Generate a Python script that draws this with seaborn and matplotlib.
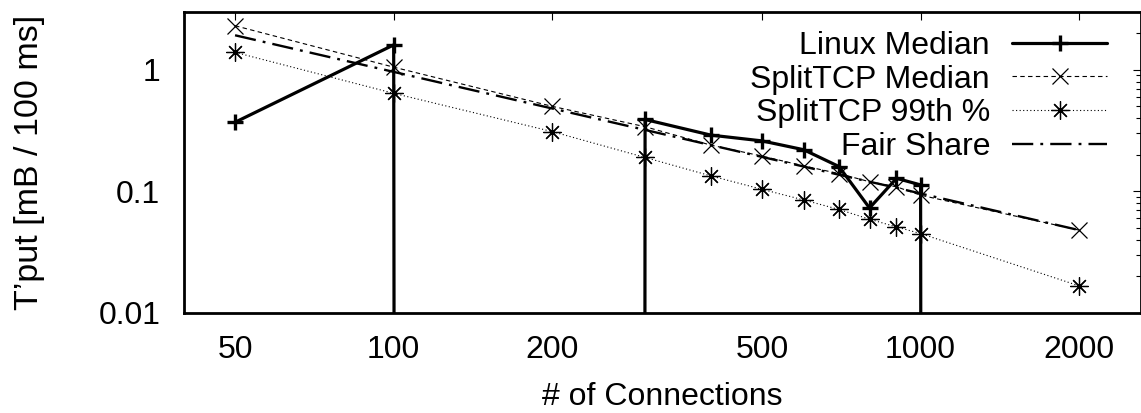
import numpy as np
import pandas as pd
import matplotlib
matplotlib.use("Agg")
import matplotlib.pyplot as plt
import seaborn as sns
from matplotlib.ticker import FixedLocator, NullLocator, LogLocator, NullFormatter, FixedFormatter

# ---- data ----
connections = [50, 100, 200, 300, 400, 500, 600, 700, 800, 900, 1000, 2000]
linux_median = [0.37, 1.6, 0.0, 0.39, 0.29, 0.26, 0.22, 0.16, 0.073, 0.128, 0.113, 0.0]
split_median = [2.3, 1.05, 0.50, 0.34, 0.24, 0.195, 0.162, 0.14, 0.12, 0.109, 0.093, 0.048]
split_p99 = [1.39, 0.64, 0.31, 0.19, 0.134, 0.104, 0.085, 0.071, 0.059, 0.051, 0.045, 0.0167]
fair_share = [1.92, 0.96, 0.48, 0.32, 0.24, 0.192, 0.16, 0.137, 0.12, 0.107, 0.096, 0.048]
series_labels = ["Linux Median", "SplitTCP Median", "SplitTCP 99th %", "Fair Share"]
x_ticks = [50, 100, 200, 500, 1000, 2000]
x_tick_labels = ["50", "100", "200", "500", "1000", "2000"]
y_ticks = [0.01, 0.1, 1]
y_tick_labels = ["0.01", "0.1", "1"]

sns.set_style("white")
plt.rcParams["font.family"] = ["Liberation Sans", "DejaVu Sans"]
plt.rcParams["text.color"] = "black"
plt.rcParams["axes.labelcolor"] = "black"
plt.rcParams["xtick.color"] = "black"
plt.rcParams["ytick.color"] = "black"
FS = 23

fig = plt.figure(figsize=(11.41, 4.13), dpi=100)
ax = fig.add_axes([184 / 1141, 100 / 413, 957 / 1141, 301.3 / 413])

df = pd.DataFrame({"x": connections, "linux": linux_median, "smed": split_median,
                   "p99": split_p99, "fair": fair_share})

sns.lineplot(data=df, x="x", y="linux", ax=ax, color="black", lw=2.3,
             marker="+", markersize=12, mec="black", mew=2.4,
             label=series_labels[0], estimator=None, sort=False)
sns.lineplot(data=df, x="x", y="smed", ax=ax, color="black", lw=0.8,
             linestyle=(0, (4, 3)), marker="x", markersize=11, mec="black", mew=0.9,
             label=series_labels[1], estimator=None, sort=False)
sns.lineplot(data=df, x="x", y="p99", ax=ax, color="black", lw=0.8,
             linestyle=(0, (1, 2.2)), marker=(8, 2, 0), markersize=13, mec="black", mew=0.9,
             label=series_labels[2], estimator=None, sort=False)
sns.lineplot(data=df, x="x", y="fair", ax=ax, color="black", lw=1.7,
             linestyle=(0, (9, 3, 1.2, 3)),
             label=series_labels[3], estimator=None, sort=False)

ax.set_xscale("log")
ax.set_yscale("log")
ax.set_xlim(40, 2620)
ax.set_ylim(0.01, 3)

ax.xaxis.set_major_locator(FixedLocator(x_ticks))
ax.xaxis.set_major_formatter(FixedFormatter(x_tick_labels))
ax.xaxis.set_minor_locator(NullLocator())
ax.yaxis.set_major_locator(FixedLocator(y_ticks))
ax.yaxis.set_major_formatter(FixedFormatter(y_tick_labels))
ax.yaxis.set_minor_locator(LogLocator(base=10, subs=np.arange(2, 10)))
ax.yaxis.set_minor_formatter(NullFormatter())

ax.tick_params(which="both", direction="in", top=True, right=True, color="black", width=0.8)
ax.tick_params(which="major", length=5.5, labelsize=FS, labelcolor="black")
ax.tick_params(which="minor", length=3.5)
ax.tick_params(axis="x", which="major", pad=15.5)
ax.tick_params(axis="y", which="major", pad=17)

for s in ax.spines.values():
    s.set_color("black")
    s.set_linewidth(2.0)

ax.set_xlabel("# of Connections", fontsize=FS)
ax.set_ylabel("T\u2019put [mB / 100 ms]", fontsize=24.5)
ax.xaxis.set_label_coords(0.5, -0.3053)
ax.xaxis.label.set_va("baseline")
ax.yaxis.set_label_coords(-0.161, 0.5)
ax.yaxis.label.set_va("center")

ax.legend(loc="upper right", bbox_to_anchor=(0.9645, 0.936), frameon=False,
          markerfirst=False, fontsize=FS, handlelength=2.97, handletextpad=0.69,
          labelspacing=0.115, borderpad=0, borderaxespad=0, numpoints=1)

fig.savefig("out.png", dpi=100)
